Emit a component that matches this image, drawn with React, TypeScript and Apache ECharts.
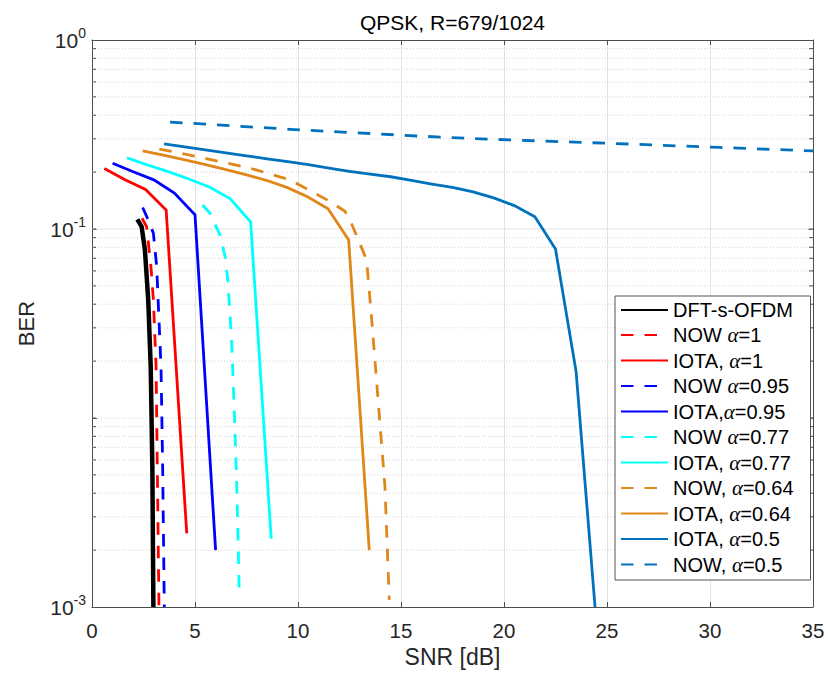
import React, { useEffect, useRef } from 'react';
import * as echarts from 'echarts';

// ---- data (SNR [dB], BER) ----
const dftSOFDM: [number, number][] = [
  [2.2, 0.1125], [2.41, 0.1028], [2.57, 0.0774], [2.73, 0.0421], [2.85, 0.0187], [2.93, 0.0055], [2.98, 0.001],
];
const nowA1: [number, number][] = [
  [2.43, 0.114], [2.65, 0.103], [2.86, 0.0632], [2.98, 0.0421], [3.11, 0.0187], [3.17, 0.0055], [3.25, 0.001],
];
const iotaA1: [number, number][] = [
  [0.6, 0.209], [1.6, 0.182], [2.6, 0.162], [3.6, 0.126], [4.6, 0.00245],
];
const nowA095: [number, number][] = [
  [2.46, 0.13], [2.73, 0.1116], [2.98, 0.095], [3.14, 0.0632], [3.35, 0.0187], [3.43, 0.0055], [3.51, 0.001],
];
const iotaA095: [number, number][] = [
  [1.0, 0.223], [2.0, 0.201], [3.0, 0.182], [4.0, 0.155], [5.0, 0.119], [6.0, 0.002],
];
const nowA077: [number, number][] = [
  [5.37, 0.134], [5.73, 0.121], [6.21, 0.093], [6.46, 0.0714], [6.59, 0.0537], [6.7, 0.0358],
  [6.81, 0.0211], [6.91, 0.0106], [7.02, 0.0047], [7.1, 0.00209], [7.15, 0.00113],
];
const iotaA077: [number, number][] = [
  [1.7, 0.238], [2.7, 0.218], [3.7, 0.201], [4.7, 0.184], [5.7, 0.167], [6.7, 0.145], [7.7, 0.109], [8.7, 0.0023],
];
const nowA064: [number, number][] = [
  [3.27, 0.265], [5.24, 0.24], [7.67, 0.21], [9.61, 0.182], [11.55, 0.14], [12.28, 0.124], [12.52, 0.112],
  [12.93, 0.0875], [13.33, 0.0686], [13.58, 0.033], [13.9, 0.012], [14.22, 0.00434], [14.43, 0.00109],
];
const iotaA064: [number, number][] = [
  [2.46, 0.259], [3.46, 0.246], [4.46, 0.233], [5.46, 0.22], [6.46, 0.207], [7.46, 0.194], [8.46, 0.181],
  [9.46, 0.166], [10.46, 0.148], [11.46, 0.128], [12.46, 0.0875], [13.46, 0.002],
];
const iotaA05: [number, number][] = [
  [3.5, 0.282], [4.5, 0.272], [5.5, 0.262], [6.5, 0.253], [7.5, 0.244], [8.5, 0.235], [9.5, 0.227],
  [10.5, 0.219], [11.5, 0.21], [12.5, 0.202], [13.5, 0.195], [14.5, 0.189], [15.5, 0.181], [16.5, 0.173],
  [17.5, 0.166], [18.5, 0.157], [19.5, 0.146], [20.5, 0.133], [21.5, 0.116], [22.5, 0.0783], [23.5, 0.0176],
  [24.42, 0.001],
];
const nowA05: [number, number][] = [
  [3.79, 0.368], [9.61, 0.337], [15.92, 0.31], [19.16, 0.299], [26.3, 0.281], [30.5, 0.27], [35, 0.259],
];

// grid / tick values
const yMinorGrid: number[] = [
  0.002, 0.003, 0.004, 0.005, 0.006, 0.007, 0.008, 0.009,
  0.01, 0.02, 0.03, 0.04, 0.05, 0.06, 0.07, 0.08, 0.09,
  0.2, 0.3, 0.4, 0.5, 0.6, 0.7, 0.8, 0.9,
];
const yMajorGrid: number[] = [0.1];
const yLabelExponents: number[] = [0, -1, -3];

const seriesDefs = [
  { name: 'DFT-s-OFDM', data: dftSOFDM, color: '#000000', dashed: false, width: 4.5 },
  { name: 'NOW α=1', data: nowA1, color: '#FF0000', dashed: true, width: 2.8 },
  { name: 'IOTA, α=1', data: iotaA1, color: '#FF0000', dashed: false, width: 2.8 },
  { name: 'NOW α=0.95', data: nowA095, color: '#0000FF', dashed: true, width: 2.8 },
  { name: 'IOTA,α=0.95', data: iotaA095, color: '#0000FF', dashed: false, width: 2.8 },
  { name: 'NOW α=0.77', data: nowA077, color: '#00FFFF', dashed: true, width: 2.8 },
  { name: 'IOTA, α=0.77', data: iotaA077, color: '#00FFFF', dashed: false, width: 2.8 },
  { name: 'NOW, α=0.64', data: nowA064, color: '#E0871A', dashed: true, width: 2.8 },
  { name: 'IOTA, α=0.64', data: iotaA064, color: '#E0871A', dashed: false, width: 2.8 },
  { name: 'IOTA, α=0.5', data: iotaA05, color: '#0072BD', dashed: false, width: 2.8 },
  { name: 'NOW, α=0.5', data: nowA05, color: '#0072BD', dashed: true, width: 2.8 },
];

const FONT = '"Liberation Sans", Arial, Helvetica, sans-serif';
const AXIS_COLOR = '#4d4d4d';
const TEXT_COLOR = '#262626';

export default function App() {
  const ref = useRef<HTMLDivElement>(null);
  useEffect(() => {
    if (!ref.current) return;
    const chart = echarts.init(ref.current, undefined, { renderer: 'svg' });

    const gridLineSeries = (values: number[], major: boolean) => ({
      type: 'custom',
      silent: true,
      z: 1,
      xAxisIndex: 0,
      yAxisIndex: 0,
      encode: { x: 0, y: 1 },
      data: values.map((v) => [0, v]),
      renderItem: (params: any, api: any) => {
        const y = api.coord([0, api.value(1)])[1];
        const cs = params.coordSys;
        const children: any[] = [
          {
            type: 'line',
            shape: { x1: cs.x, y1: y, x2: cs.x + cs.width, y2: y },
            style: major
              ? { stroke: '#e3e3e3', lineWidth: 1 }
              : { stroke: '#d2d2d2', lineWidth: 1, lineDash: [1, 2] },
          },
          {
            type: 'line',
            shape: { x1: cs.x, y1: y, x2: cs.x + 4, y2: y },
            style: { stroke: AXIS_COLOR, lineWidth: 1 },
          },
          {
            type: 'line',
            shape: { x1: cs.x + cs.width - 4, y1: y, x2: cs.x + cs.width, y2: y },
            style: { stroke: AXIS_COLOR, lineWidth: 1 },
          },
        ];
        return { type: 'group', children };
      },
    });

    const option: any = {
      animation: false,
      backgroundColor: '#ffffff',
      textStyle: { fontFamily: FONT },
      title: {
        text: 'QPSK, R=679/1024',
        left: 452.5,
        top: 12,
        padding: 0,
        textAlign: 'center',
        textStyle: { fontSize: 21, fontWeight: 'normal', color: '#000', fontFamily: FONT },
      },
      grid: { left: 92, right: 15, top: 40, bottom: 68, containLabel: false },
      legend: {
        orient: 'vertical',
        left: 615,
        top: 296,
        itemWidth: 47,
        itemHeight: 14,
        itemGap: 4.5,
        padding: [4, 17, 5, 5],
        backgroundColor: '#ffffff',
        borderColor: '#555555',
        borderWidth: 1,
        selectedMode: false,
        itemStyle: { opacity: 0 },
        data: seriesDefs.map((s) => s.name),
        formatter: (name: string) => name.replace('α', '{a|α}'),
        textStyle: {
          fontSize: 20,
          lineHeight: 20,
          color: '#000',
          fontFamily: FONT,
          rich: {
            a: { fontSize: 21, lineHeight: 20, fontStyle: 'italic', fontFamily: '"Liberation Serif", "DejaVu Serif", serif', color: '#000' },
          },
        },
      },
      xAxis: [
        {
          type: 'value',
          position: 'bottom',
          min: 0,
          max: 35,
          interval: 5,
          name: 'SNR [dB]',
          nameLocation: 'middle',
          nameGap: 37,
          nameTextStyle: { fontSize: 23, color: TEXT_COLOR, fontFamily: FONT },
          axisLine: { show: true, onZero: false, lineStyle: { color: AXIS_COLOR, width: 1 } },
          axisTick: { show: true, inside: true, length: 5, lineStyle: { color: AXIS_COLOR } },
          axisLabel: { fontSize: 20.5, color: TEXT_COLOR, margin: 13, fontFamily: FONT },
          splitLine: { show: true, lineStyle: { color: '#e3e3e3', width: 1 } },
        },
        {
          type: 'value',
          position: 'top',
          min: 0,
          max: 35,
          interval: 5,
          axisLine: { show: true, onZero: false, lineStyle: { color: AXIS_COLOR, width: 1 } },
          axisTick: { show: true, inside: true, length: 5, lineStyle: { color: AXIS_COLOR } },
          axisLabel: { show: false },
          splitLine: { show: false },
        },
      ],
      yAxis: [
        {
          type: 'log',
          logBase: 10,
          position: 'left',
          min: 0.001,
          max: 1,
          name: 'BER',
          nameLocation: 'middle',
          nameGap: 55,
          nameTextStyle: { fontSize: 22, color: TEXT_COLOR, fontFamily: FONT },
          axisLine: { show: true, onZero: false, lineStyle: { color: AXIS_COLOR, width: 1 } },
          axisTick: { show: true, inside: true, length: 5, lineStyle: { color: AXIS_COLOR } },
          axisLabel: {
            margin: 6,
            fontFamily: FONT,
            formatter: (v: number) => {
              const e = Math.round(Math.log10(v));
              if (!yLabelExponents.includes(e)) return '';
              return `{b|10}{s|${e}}`;
            },
            rich: {
              b: { fontSize: 21, color: TEXT_COLOR, fontFamily: FONT },
              s: { fontSize: 14, color: TEXT_COLOR, fontFamily: FONT, padding: [0, 0, 15, 0] },
            },
          },
          splitLine: { show: false },
        },
        {
          type: 'log',
          logBase: 10,
          position: 'right',
          min: 0.001,
          max: 1,
          axisLine: { show: true, onZero: false, lineStyle: { color: AXIS_COLOR, width: 1 } },
          axisTick: { show: true, inside: true, length: 5, lineStyle: { color: AXIS_COLOR } },
          axisLabel: { show: false },
          splitLine: { show: false },
        },
      ],
      series: [
        gridLineSeries(yMinorGrid, false),
        gridLineSeries(yMajorGrid, true),
        ...seriesDefs.map((s, i) => ({
          type: 'line',
          name: s.name,
          data: s.data,
          xAxisIndex: 0,
          yAxisIndex: 0,
          showSymbol: false,
          symbol: 'none',
          clip: true,
          z: 3 + i * 0.01,
          itemStyle: { color: s.color },
          lineStyle: { color: s.color, width: s.width, type: s.dashed ? [12.5, 11] : 'solid', cap: 'butt', join: 'miter' },
        })),
      ],
    };
    chart.setOption(option);
    return () => chart.dispose();
  }, []);
  return (
    <div
      ref={ref}
      style={{ position: 'fixed', left: 0, top: 0, width: 828, height: 675, background: '#fff' }}
    />
  );
}
